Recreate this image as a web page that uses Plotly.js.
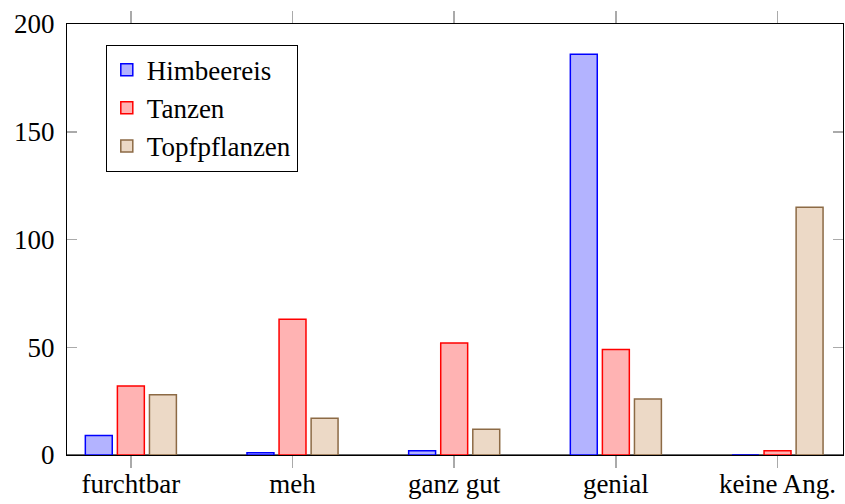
<!DOCTYPE html>
<html>
<head>
<meta charset="utf-8">
<script src="https://cdn.plot.ly/plotly-3.0.1.min.js"></script>
<style>html,body{margin:0;padding:0;background:#fff;}#chart{width:845px;height:504px;}</style>
</head>
<body>
<div id="chart"></div>
<script>
const categories = ["furchtbar", "meh", "ganz gut", "genial", "keine Ang."];
const himbeereis = [9, 1, 2, 186, 0];
const tanzen = [32, 63, 52, 49, 2];
const topfpflanzen = [28, 17, 12, 26, 115];
const seriesNames = ["Himbeereis", "Tanzen", "Topfpflanzen"];
const yTicks = [0, 50, 100, 150, 200];

const font = {family: "Liberation Serif, Times New Roman, serif", size: 27, color: "#000"};

const traces = [
  {name: seriesNames[0], y: himbeereis, fill: "#b3b3ff", line: "#0000ff"},
  {name: seriesNames[1], y: tanzen, fill: "#ffb3b3", line: "#ff0000"},
  {name: seriesNames[2], y: topfpflanzen, fill: "#ecd9c6", line: "#8c6a45"}
].map(s => ({
  type: "bar",
  name: s.name,
  x: categories,
  y: s.y,
  marker: {color: s.fill, line: {color: s.line, width: 1.5}},
  hoverinfo: "skip"
}));

const layout = {
  width: 845, height: 504,
  margin: {l: 67, r: 2, t: 24, b: 49},
  paper_bgcolor: "#fff", plot_bgcolor: "#fff",
  font: font,
  barmode: "group",
  bargap: 0.405,
  bargroupgap: 0.16,
  showlegend: true,
  legend: {
    x: 0.05, y: 0.952, xanchor: "left", yanchor: "top",
    bordercolor: "#000", borderwidth: 1, bgcolor: "#fff",
    font: {family: font.family, size: 27, color: "#000"},
    itemwidth: 30, tracegroupgap: 0
  },
  xaxis: {
    type: "category",
    range: [-0.395, 4.405],
    showline: true, linecolor: "#000", linewidth: 1.2, mirror: "ticks",
    ticks: "outside", ticklen: 12, tickcolor: "#aaa", tickwidth: 1.5,
    showgrid: false, zeroline: false,
    tickfont: font, ticklabelstandoff: -8, fixedrange: true
  },
  yaxis: {
    range: [0, 200],
    tickvals: yTicks, ticktext: yTicks.map(String),
    showline: true, linecolor: "#000", linewidth: 1.2, mirror: "ticks",
    ticks: "inside", ticklen: 10, tickcolor: "#aaa", tickwidth: 1.5,
    showgrid: false,
    zeroline: true, zerolinecolor: "#666", zerolinewidth: 2,
    tickfont: font, ticklabelstandoff: 6, fixedrange: true
  }
};

Plotly.newPlot("chart", traces, layout, {displayModeBar: false, staticPlot: true});
</script>
</body>
</html>
